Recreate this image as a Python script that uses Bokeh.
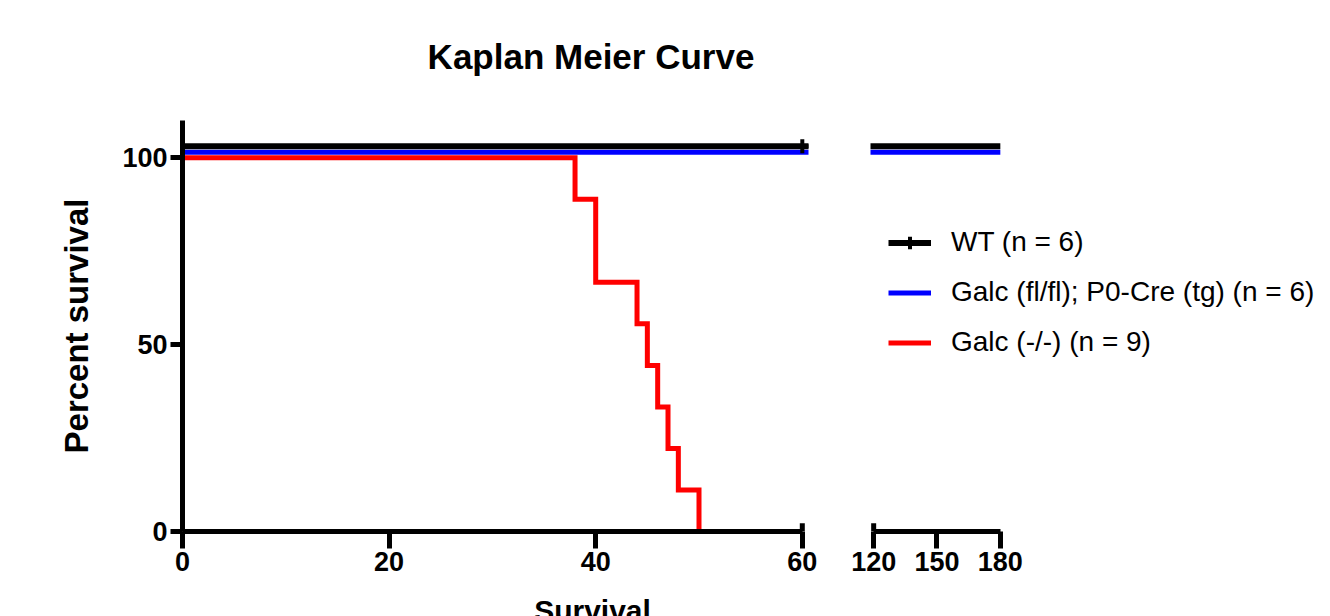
from bokeh.plotting import figure
from bokeh.models import Range1d, FixedTicker, Legend, LegendItem, Label
from bokeh.layouts import row, column
from bokeh.embed import file_html
from bokeh.resources import INLINE

# ---------------- data ----------------
# WT and Galc(fl/fl);P0-Cre stay at 100 %; drawn slightly offset above 100 as in the original
wt_times = [0, 180]
wt_surv = [103.1, 103.1]
wt_censor_times = [60]
wt_censor_surv = [103.1]

cko_times = [0, 180]
cko_surv = [101.5, 101.5]
cko_censor_times = []
cko_censor_surv = []

ko_times = [0, 38, 40, 44, 45, 46, 47, 48, 50]
ko_surv = [100, 88.9, 66.7, 55.6, 44.4, 33.3, 22.2, 11.1, 0]
ko_censor_times = []
ko_censor_surv = []

series_labels = ["WT (n = 6)", "Galc (fl/fl); P0-Cre (tg) (n = 6)", "Galc (-/-) (n = 9)"]
series_colors = ["#000000", "#0000ff", "#ff0000"]

y_ticks = [0, 50, 100]
x_ticks_early = [0, 20, 40, 60]
x_ticks_late = [120, 150, 180]
x_segments = [(0, 60), (120, 180)]

title_text = "Kaplan Meier Curve"
y_label = "Percent survival"
x_label = "Survival"

FONT = "Liberation Sans"
TOTAL_W = 1322

series = [
    (wt_times, wt_surv, wt_censor_times, wt_censor_surv, series_colors[0], 6),
    (cko_times, cko_surv, cko_censor_times, cko_censor_surv, series_colors[1], 5),
    (ko_times, ko_surv, ko_censor_times, ko_censor_surv, series_colors[2], 5),
]
draw_order = [1, 0, 2]

yr = Range1d(0, 110)


def style_axis(ax, tick_out, standoff):
    ax.axis_line_width = 5
    ax.axis_line_color = "black"
    ax.major_tick_line_width = 5
    ax.major_tick_line_color = "black"
    ax.major_tick_out = tick_out
    ax.major_tick_in = 0
    ax.minor_tick_line_color = None
    ax.major_label_text_font = FONT
    ax.major_label_text_font_style = "bold"
    ax.major_label_text_font_size = "27px"
    ax.major_label_text_color = "black"
    ax.major_label_standoff = standoff


def blank_fig(h):
    f = figure(width=TOTAL_W, height=h, x_range=Range1d(0, TOTAL_W), y_range=Range1d(0, h),
               min_border=0, x_axis_location=None, y_axis_location=None,
               output_backend="svg", toolbar_location=None, title=None)
    f.grid.visible = False
    f.outline_line_color = None
    return f


def make_fig(frame_w, xr, border_l, border_r, show_y):
    p = figure(
        frame_width=frame_w, frame_height=411,
        min_border_left=border_l, min_border_right=border_r,
        min_border_top=8, min_border_bottom=55,
        x_range=xr, y_range=yr,
        output_backend="svg", toolbar_location=None, title=None,
        y_axis_location="left" if show_y else None,
    )
    p.grid.visible = False
    p.outline_line_color = None
    p.background_fill_color = "white"
    p.border_fill_color = "white"
    renderers = {}
    for i in draw_order:
        t, s, ct, cs, c, w = series[i]
        rl = p.step(t, s, mode="after", line_color=c, line_width=w, line_join="miter")
        rt = p.scatter(ct, cs, marker="cross", size=14, line_color=c, line_width=4)
        renderers[i] = (rl, rt)
    return p, renderers


# title strip
title_fig = blank_fig(112)
title_fig.add_layout(Label(x=590.5, y=56, text=title_text, text_align="center",
                           text_baseline="alphabetic", text_font=FONT,
                           text_font_style="bold", text_font_size="35px",
                           text_color="black"))

# left (early) part
p1, _ = make_fig(626, Range1d(0, 60.6), 182, 30, True)
style_axis(p1.xaxis[0], 17, 3)
p1.xaxis[0].ticker = FixedTicker(ticks=x_ticks_early)
p1.xaxis[0].bounds = x_segments[0]
style_axis(p1.yaxis[0], 12, 3)
p1.yaxis[0].ticker = FixedTicker(ticks=y_ticks)
p1.yaxis[0].axis_label = y_label
p1.yaxis[0].axis_label_text_font = FONT
p1.yaxis[0].axis_label_text_font_style = "bold"
p1.yaxis[0].axis_label_text_font_size = "33px"
p1.yaxis[0].axis_label_text_color = "black"
p1.yaxis[0].axis_label_standoff = 24
# break mark at end of first segment
p1.segment(x0=[x_segments[0][1]], y0=[0], x1=[x_segments[0][1]], y1=[2.2],
           line_color="black", line_width=5)

# right (late) part; frame extends to the right so that the legend sits inside it
p2_frame = TOTAL_W - 838 - 32
p2, rends = make_fig(p2_frame, Range1d(118.5, 118.5 + p2_frame / 2.111), 32, 0, False)
style_axis(p2.xaxis[0], 17, 3)
p2.xaxis[0].ticker = FixedTicker(ticks=x_ticks_late)
p2.xaxis[0].bounds = x_segments[1]
p2.segment(x0=[x_segments[1][0]], y0=[0], x1=[x_segments[1][0]], y1=[2.2],
           line_color="black", line_width=5)

items = [LegendItem(label=series_labels[i], renderers=list(rends[i])) for i in range(3)]
legend = Legend(items=items, location=(18, 173), orientation="vertical",
                border_line_color=None, background_fill_alpha=0,
                padding=0, margin=0, spacing=18,
                glyph_width=43, glyph_height=31, label_height=31,
                label_standoff=20, label_text_font=FONT,
                label_text_font_size="28px", label_text_color="black",
                label_text_baseline="middle")
p2.add_layout(legend)

# x-axis title strip (centred under the whole broken axis)
xlab_fig = blank_fig(30)
xlab_fig.add_layout(Label(x=592, y=23, text=x_label, text_align="center",
                          text_baseline="top", text_font=FONT,
                          text_font_style="bold", text_font_size="30px",
                          text_color="black"))

layout = column(title_fig, row(p1, p2), xlab_fig)
open("out.html", "w").write(file_html(layout, INLINE, title="Kaplan Meier Curve"))
